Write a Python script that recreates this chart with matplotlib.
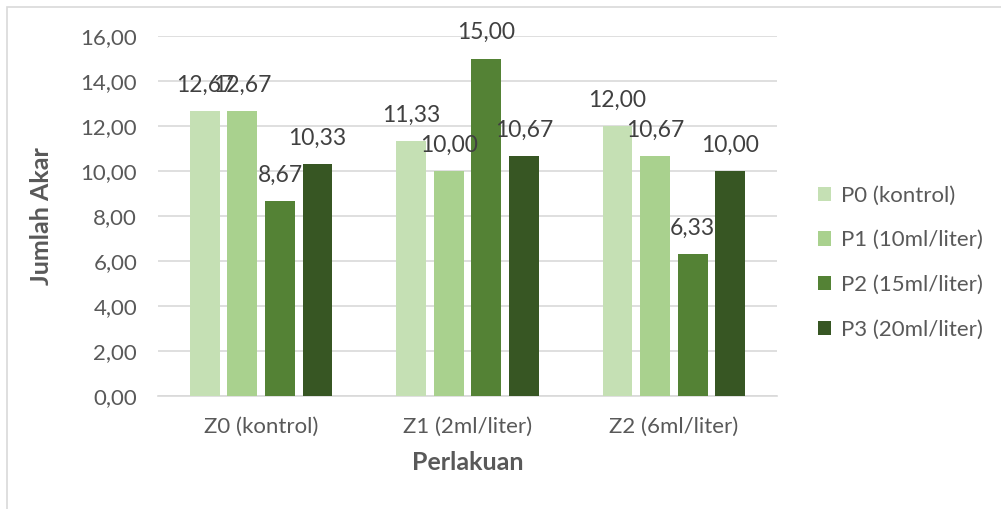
import numpy as np
import matplotlib.pyplot as plt
from matplotlib.patches import Rectangle

plt.rcParams['font.family'] = ['Lato', 'DejaVu Sans']

categories = ["Z0 (kontrol)", "Z1 (2ml/liter)", "Z2 (6ml/liter)"]
series_names = ["P0 (kontrol)", "P1 (10ml/liter)", "P2 (15ml/liter)", "P3 (20ml/liter)"]
p0 = [12.67, 11.33, 12.00]
p1 = [12.67, 10.00, 10.67]
p2 = [8.67, 15.00, 6.33]
p3 = [10.33, 10.67, 10.00]
colors = ["#C5E0B4", "#A9D18E", "#548235", "#375623"]

yticks = np.arange(0, 17, 2)

fig = plt.figure(figsize=(10.01, 5.09), dpi=100)
ax = fig.add_axes([158 / 1001, 1 - 396 / 509, (777 - 158) / 1001, (396 - 36) / 509])

# light frame around chart area (left and top visible in the reference)
fig.patches.append(Rectangle((7 / 1001, -0.1), 1.2, 1.1 - 7 / 509, transform=fig.transFigure,
                             fill=False, edgecolor="#D9D9D9", linewidth=1.2))

x = np.arange(len(categories))
width = 0.145
step = 0.182
for i, (vals, name, c) in enumerate(zip([p0, p1, p2, p3], series_names, colors)):
    pos = x + (i - 1.5) * step
    bars = ax.bar(pos, vals, width=width, color=c, label=name, zorder=3)
    for b, v in zip(bars, vals):
        ax.annotate(f"{v:.2f}".replace(".", ","), (b.get_x() + b.get_width() / 2, v),
                    xytext=(0, 18.5), textcoords="offset points", ha="center", va="center",
                    fontsize=16.5, color="#404040", zorder=4)

ax.set_xlim(-0.5, len(categories) - 0.5)
ax.set_ylim(0, 16)
ax.set_yticks(yticks)
ax.set_yticklabels([f"{t:.2f}".replace(".", ",") for t in yticks])
ax.set_xticks(x)
ax.set_xticklabels(categories)
ax.tick_params(axis="both", length=0, labelsize=16, colors="#595959")
ax.tick_params(axis="x", pad=15)
ax.tick_params(axis="y", pad=15)
ax.grid(axis="y", color="#D9D9D9", linewidth=1.2, zorder=0)
for s in ["top", "right", "left"]:
    ax.spines[s].set_visible(False)
ax.spines["bottom"].set_color("#D9D9D9")
ax.spines["bottom"].set_linewidth(1.2)

ax.set_ylabel("Jumlah Akar", fontsize=18, fontweight="bold", color="#595959", labelpad=20)
ax.set_xlabel("Perlakuan", fontsize=18, fontweight="bold", color="#595959", labelpad=10)

ax.legend(loc="center left", bbox_to_anchor=(1.066, 0.37), frameon=False, fontsize=16,
          labelcolor="#595959", handlelength=0.6, handleheight=0.6, labelspacing=1.12,
          handletextpad=0.45, borderaxespad=0, borderpad=0)

plt.savefig("out.png", dpi=100)
plt.close()
